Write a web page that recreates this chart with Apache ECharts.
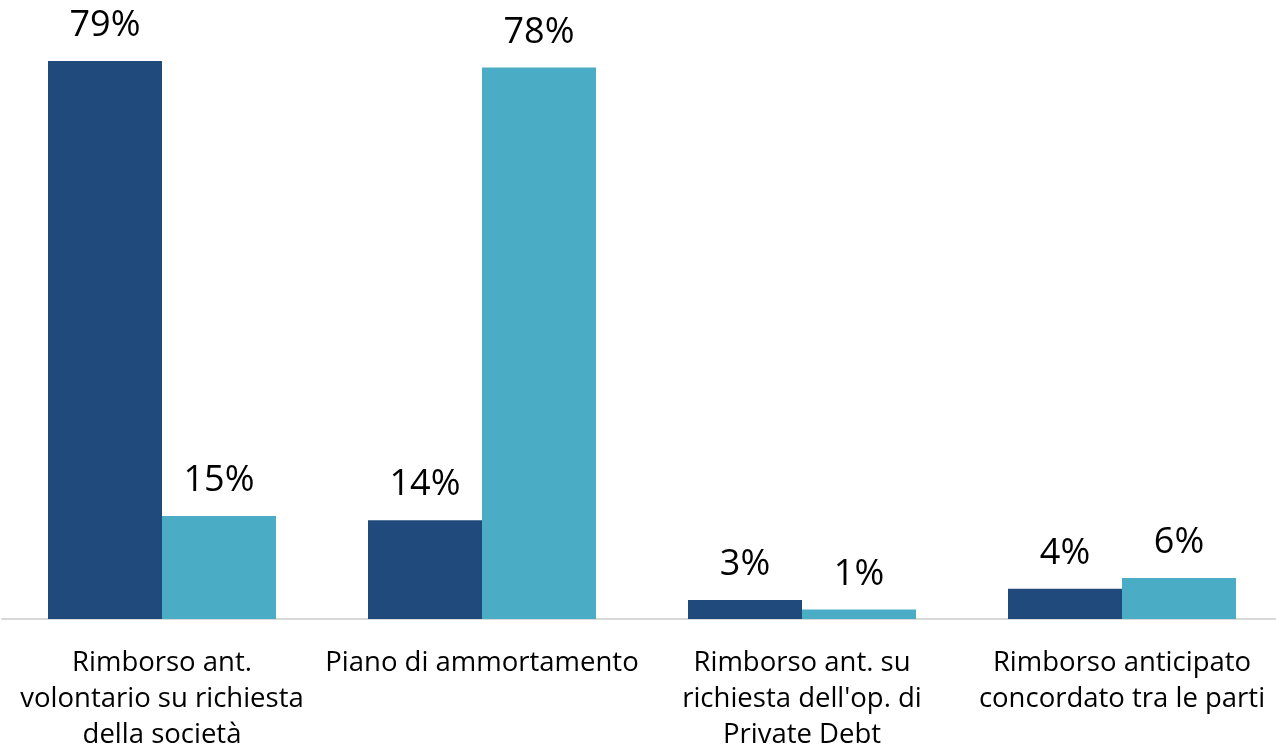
<!DOCTYPE html>
<html><head><meta charset="utf-8">
<script src="https://cdn.jsdelivr.net/npm/echarts@6/dist/echarts.min.js"></script>
<style>html,body{margin:0;padding:0;background:#fff}#c{width:1276px;height:753px}</style>
</head><body><div id="c"></div>
<script>
const categories = ["Rimborso ant.\nvolontario su richiesta\ndella società", "Piano di ammortamento", "Rimborso ant. su\nrichiesta dell'op. di\nPrivate Debt", "Rimborso anticipato\nconcordato tra le parti"];
const seriesA = [79, 14.0, 2.7, 4.3];
const seriesB = [14.6, 78.1, 1.35, 5.8];
const FONT = "Open Sans";
const chart = echarts.init(document.getElementById('c'), null, {renderer:'canvas'});
const lbl = {show:true, position:'top', distance:17, color:'#000', fontSize:36, fontFamily:FONT, formatter:p=>Math.round(p.value)+'%'};
chart.setOption({
  animation:false,
  grid:{left:2, width:1280, top:54, bottom:134, containLabel:false, outerBoundsMode:'none'},
  xAxis:{type:'category', data:categories,
    axisLine:{lineStyle:{color:'#d9d9d9', width:2}}, axisTick:{show:false},
    axisLabel:{interval:0, color:'#000', fontSize:27.5, fontFamily:FONT, lineHeight:36, margin:26}},
  yAxis:{type:'value', min:0, max:80, show:false, splitLine:{show:false}},
  series:[
    {type:'bar', data:seriesA, barGap:'0%', barCategoryGap:'28.75%', itemStyle:{color:'#214a7c'}, label:lbl},
    {type:'bar', data:seriesB, barGap:'0%', barCategoryGap:'28.75%', itemStyle:{color:'#4bacc6'}, label:lbl}
  ]
});
</script></body></html>
